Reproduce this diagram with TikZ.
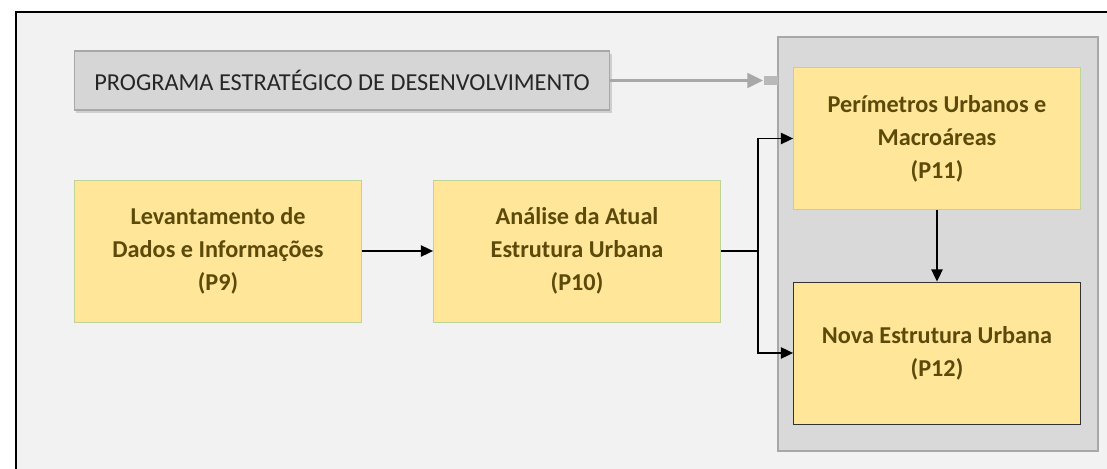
\documentclass[tikz,border=0pt]{standalone}
\usepackage{fontspec}
\setmainfont{Carlito}
\usepackage{xcolor}
\usepackage{tikz}
\usetikzlibrary{arrows.meta,shadows}

\definecolor{fundo}{RGB}{242,242,242}
\definecolor{caixa}{RGB}{255,230,153}
\definecolor{bordaverde}{RGB}{190,212,150}
\definecolor{textoetapa}{RGB}{92,74,10}
\definecolor{cinzaprog}{RGB}{214,214,214}
\definecolor{cinzagrupo}{RGB}{217,217,217}
\definecolor{cinzaborda}{RGB}{168,168,168}

\begin{document}
\begin{tikzpicture}[x=0.02cm, y=-0.02cm,
        etapa/.style={rectangle, fill=caixa, draw=bordaverde, line width=0.5pt,
            minimum width=5.74cm, minimum height=2.84cm, align=center,
            text=textoetapa, font=\fontsize{13.8}{18.8}\selectfont\bfseries},
        programa/.style={rectangle, fill=cinzaprog, draw=cinzaborda, line width=0.6pt,
            minimum width=10.72cm, minimum height=1.18cm,
            text={rgb,255:red,38;green,38;blue,38}, font=\fontsize{13.85}{17}\selectfont,
            drop shadow={shadow xshift=1pt, shadow yshift=-1.5pt, opacity=0.3}},
        seta/.style={line width=0.85pt, -{Triangle[length=7pt, width=6.5pt]}}]
    \useasboundingbox (0,0) rectangle (1107,469);
    \fill[white] (0,0) rectangle (1107,469);
    \fill[fundo] (16,12) rectangle (1107,469);
    \draw[line width=0.7pt] (16,469) -- (16,12) -- (1107,12);

    % grupo P11/P12
    \draw[fill=cinzagrupo, draw=cinzaborda, line width=1.2pt] (778,37) rectangle (1098,451);

    \node[programa] (prog) at (342,80.5) {PROGRAMA ESTRATÉGICO DE DESENVOLVIMENTO};
    \node[fill=cinzaborda!80, minimum width=0.28cm, minimum height=0.18cm, inner sep=0pt,
          anchor=east] (entrada) at (778,80.5) {};

    \node[etapa] (p9) at (218,251) {Levantamento de\\Dados e Informações\\(P9)};
    \node[etapa] (p10) at (577,251) {Análise da Atual\\Estrutura Urbana\\(P10)};
    \node[etapa] (p11) at (937,138.5) {Perímetros Urbanos e\\Macroáreas\\(P11)};
    \node[etapa, draw={rgb,255:red,50;green,50;blue,50}] (p12) at (937,353) {Nova Estrutura Urbana\\(P12)};

    \coordinate (divide) at (758,251);

    \draw[line width=2.2pt, cinzaborda, -{Triangle[length=9pt, width=8pt]}] (prog.east) -- (entrada.west);
    \draw[seta] (p9.east) -- (p10.west);
    \draw[line width=0.85pt] (p10.east) -- (divide);
    \draw[seta] (divide) |- (p11.west);
    \draw[seta] (divide) |- (p12.west);
    \draw[seta] (p11.south) -- (p12.north);
\end{tikzpicture}
\end{document}
